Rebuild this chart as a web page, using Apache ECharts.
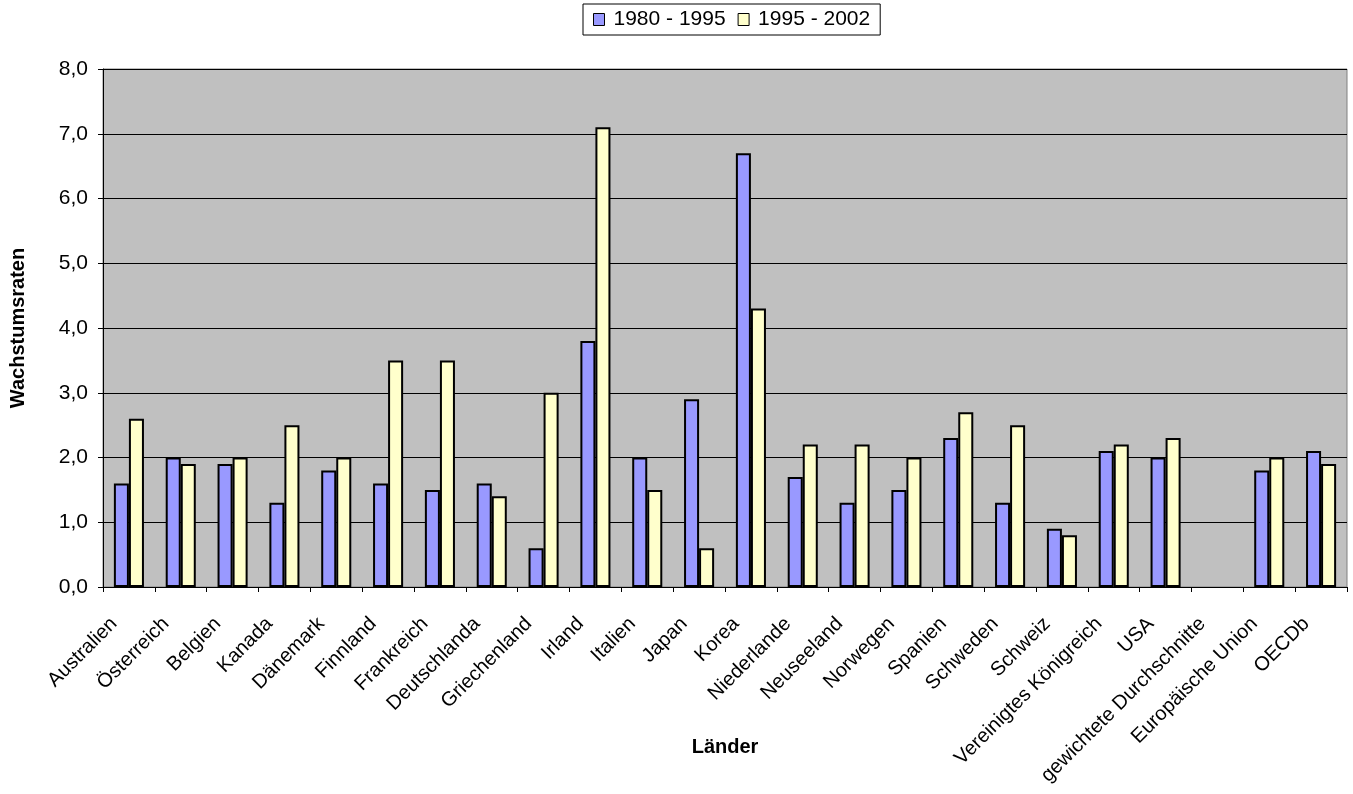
<!DOCTYPE html>
<html>
<head>
<meta charset="utf-8">
<script src="https://cdn.jsdelivr.net/npm/echarts@6/dist/echarts.min.js"></script>
<style>
  html, body { margin: 0; padding: 0; background: #fff; }
  #chart { width: 1353px; height: 794px; }
</style>
</head>
<body>
<div id="chart"></div>
<script>
// Länder
var laender = ['Australien', 'Österreich', 'Belgien', 'Kanada', 'Dänemark', 'Finnland',
    'Frankreich', 'Deutschlanda', 'Griechenland', 'Irland', 'Italien', 'Japan', 'Korea',
    'Niederlande', 'Neuseeland', 'Norwegen', 'Spanien', 'Schweden', 'Schweiz',
    'Vereinigtes Königreich', 'USA', 'gewichtete Durchschnitte', 'Europäische Union', 'OECDb'];

// Wachstumsraten 1980 - 1995
var werte8095 = [1.6, 2.0, 1.9, 1.3, 1.8, 1.6, 1.5, 1.6, 0.6, 3.8, 2.0, 2.9, 6.7,
    1.7, 1.3, 1.5, 2.3, 1.3, 0.9, 2.1, 2.0, null, 1.8, 2.1];

// Wachstumsraten 1995 - 2002
var werte9502 = [2.6, 1.9, 2.0, 2.5, 2.0, 3.5, 3.5, 1.4, 3.0, 7.1, 1.5, 0.6, 4.3,
    2.2, 2.2, 2.0, 2.7, 2.5, 0.8, 2.2, 2.3, null, 2.0, 1.9];

var schrift = '"Liberation Sans", Arial, sans-serif';

var myChart = echarts.init(document.getElementById('chart'));

var option = {
    animation: false,
    textStyle: { fontFamily: schrift },
    legend: {
        top: 4,
        left: 583,
        itemWidth: 11,
        itemHeight: 12,
        itemGap: 12,
        padding: [5, 10, 5, 10],
        borderColor: '#000',
        borderWidth: 1,
        icon: 'rect',
        itemStyle: { borderColor: '#000', borderWidth: 1 },
        textStyle: { fontSize: 21, color: '#000', fontFamily: schrift, padding: [0, 0, 0, 4] },
        data: ['1980 - 1995', '1995 - 2002']
    },
    grid: {
        left: 103,
        right: 6,
        top: 69,
        bottom: 207,
        show: true,
        backgroundColor: '#C0C0C0',
        borderColor: '#808080',
        borderWidth: 1
    },
    xAxis: {
        type: 'category',
        data: laender,
        name: 'Länder',
        nameLocation: 'middle',
        nameGap: 150,
        nameMoveOverlap: false,
        nameTextStyle: { fontSize: 20, fontWeight: 'bold', color: '#000' },
        axisLine: { lineStyle: { color: '#000', width: 1 } },
        axisTick: { show: true, length: 5, lineStyle: { color: '#000' } },
        axisLabel: {
            interval: 0,
            rotate: 45,
            fontSize: 20,
            color: '#000',
            margin: 19,
            padding: [0, 21, 0, 0]
        }
    },
    yAxis: {
        type: 'value',
        min: 0,
        max: 8,
        interval: 1,
        name: 'Wachstumsraten',
        nameLocation: 'middle',
        nameGap: 75,
        nameRotate: 90,
        nameMoveOverlap: false,
        nameTextStyle: { fontSize: 20, fontWeight: 'bold', color: '#000' },
        axisLine: { show: true, lineStyle: { color: '#000', width: 1 } },
        axisTick: { show: true, length: 5, lineStyle: { color: '#000' } },
        axisLabel: {
            fontSize: 21,
            color: '#000',
            margin: 15,
            formatter: function (v) { return v.toFixed(1).replace('.', ','); }
        },
        splitLine: { show: true, lineStyle: { color: '#000', width: 1 } }
    },
    series: [
        {
            name: '1980 - 1995',
            type: 'bar',
            data: werte8095,
            barGap: '0%',
            barCategoryGap: '42%',
            itemStyle: { color: '#9999FF', borderColor: '#000', borderWidth: 2 }
        },
        {
            name: '1995 - 2002',
            type: 'bar',
            data: werte9502,
            itemStyle: { color: '#FFFFCC', borderColor: '#000', borderWidth: 2 }
        }
    ]
};

myChart.setOption(option);
</script>
</body>
</html>
